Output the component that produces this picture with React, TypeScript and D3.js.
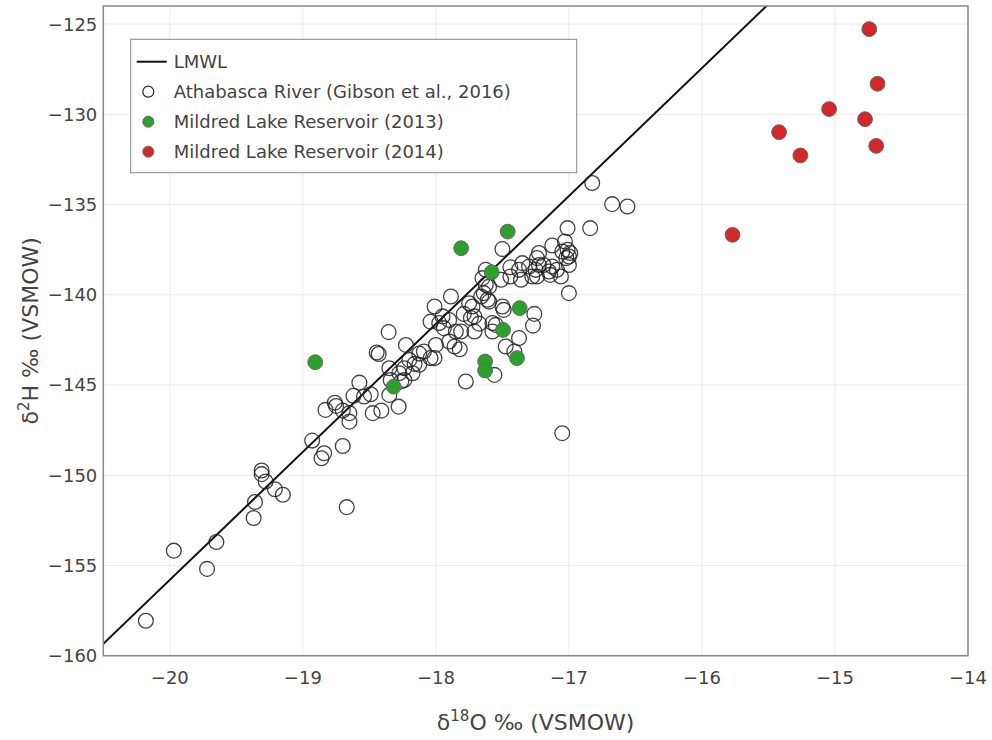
import React from "react";
import * as d3 from "d3";

// Athabasca River (Gibson et al., 2016): δ18O and δ2H, ‰ VSMOW
const athabascaO18 = [
  -20.18, -19.97, -19.72, -19.65, -19.37, -19.36, -19.28, -19.31, -19.31, -19.21,
  -19.15, -18.93, -18.86, -18.84, -18.67, -18.70, -18.83, -18.76, -18.75, -18.70,
  -18.65, -18.65, -18.62, -18.54, -18.475, -18.41, -18.28, -18.49, -18.575, -18.355,
  -18.445, -18.43, -18.35, -18.34, -18.35, -18.275, -18.237, -18.20, -18.16, -18.175,
  -18.125, -18.225, -18.237, -18.125, -18.09, -18.04, -18.01, -18.0, -18.04, -18.01,
  -17.975, -17.95, -17.94, -17.90, -17.887, -17.90, -17.85, -17.81, -17.82, -17.775,
  -17.86, -18.26, -17.75, -17.725, -17.71, -17.737, -17.71, -17.66, -17.61, -17.625,
  -17.65, -17.60, -17.50, -17.575, -17.55, -17.50, -17.49, -17.475, -17.41, -17.56,
  -17.375, -17.60, -17.64, -17.675, -17.575, -17.51, -17.625, -17.44, -17.44, -17.36,
  -17.35, -17.375, -17.30, -17.26, -17.27, -17.05, -17.125, -17.03, -17.05, -17.01,
  -17.00, -17.02, -16.99, -17.00, -17.06, -17.00, -17.225, -17.24, -17.225, -17.24,
  -17.25, -17.15, -17.125, -17.14, -17.09, -17.01, -16.84, -16.825, -16.675, -16.56,
  -17.79, -17.19, -17.275,
];
const athabascaH2 = [
  -158.06, -154.18, -155.19, -153.70, -152.37, -151.48, -150.35, -149.94, -149.74, -150.78,
  -151.08, -148.08, -149.06, -148.78, -151.77, -148.38, -146.38, -145.98, -146.16, -146.42,
  -146.56, -147.03, -145.60, -145.64, -146.56, -146.42, -146.20, -145.51, -144.87, -142.07,
  -143.20, -143.28, -144.07, -144.72, -145.55, -144.35, -144.07, -143.61, -143.83, -144.35,
  -143.88, -142.78, -144.72, -143.26, -143.15, -143.51, -143.51, -142.78, -141.49, -140.65,
  -141.57, -141.20, -141.85, -141.40, -140.10, -142.59, -142.04, -142.04, -143.02, -144.81,
  -142.87, -144.80, -140.47, -140.65, -141.20, -141.29, -142.04, -140.10, -140.28, -139.45,
  -139.08, -139.55, -137.47, -142.04, -141.67, -140.65, -140.84, -142.87, -143.15, -144.44,
  -142.40, -140.38, -139.91, -141.60, -141.57, -139.17, -138.62, -138.48, -138.99, -139.17,
  -138.25, -138.62, -138.44, -141.06, -141.71, -147.67, -137.27, -137.05, -137.60, -137.51,
  -137.88, -137.97, -137.69, -138.35, -138.99, -139.91, -137.69, -137.97, -138.35, -138.99,
  -138.62, -138.71, -138.44, -138.90, -138.62, -136.31, -136.31, -133.81, -134.98, -135.11,
  -141.06, -138.35, -138.99,
];

// Mildred Lake Reservoir, 2013 sampling
const mlr2013O18 = [-18.907, -18.317, -17.81, -17.58, -17.46, -17.495, -17.63, -17.63, -17.39, -17.37];
const mlr2013H2 = [-143.74, -145.09, -137.42, -138.75, -136.5, -141.95, -143.7, -144.2, -143.51, -140.74];

// Mildred Lake Reservoir, 2014 sampling
const mlr2014O18 = [-14.742, -14.68, -15.044, -14.774, -14.69, -15.42, -15.26, -15.77];
const mlr2014H2 = [-125.28, -128.31, -129.71, -130.27, -131.75, -130.99, -132.28, -136.68];

// Local meteoric water line: δ2H = slope · δ18O + intercept
const lmwlSlope = 7.09;
const lmwlIntercept = -14.0;

const xTicks = [-20, -19, -18, -17, -16, -15, -14];
const yTicks = [-160, -155, -150, -145, -140, -135, -130, -125];

const legendLabels = [
  "LMWL",
  "Athabasca River (Gibson et al., 2016)",
  "Mildred Lake Reservoir (2013)",
  "Mildred Lake Reservoir (2014)",
];

const W = 992;
const H = 740;
const plot = { left: 103.3, right: 968, top: 6, bottom: 655.7 };

const FONT = "'DejaVu Sans', Verdana, sans-serif";
const TEXT = "#444";
const GREEN = "#2ca02c";
const RED = "#d62728";

const fmt = (v: number) => (v < 0 ? "\u2212" + Math.abs(v) : String(v));

export default function App() {
  const x = d3.scaleLinear().domain([-20.5, -14.0]).range([plot.left, plot.right]);
  const y = d3.scaleLinear().domain([-160, -124]).range([plot.bottom, plot.top]);

  const lmwl = d3
    .line<number>()
    .x((d) => x(d))
    .y((d) => y(lmwlSlope * d + lmwlIntercept));
  const lmwlPath = lmwl(x.domain()) || "";

  const pw = plot.right - plot.left;
  const ph = plot.bottom - plot.top;

  const legend = { x: 130.7, y: 39.3, w: 446, h: 133.4 };
  const rowY = (i: number) => legend.y + 22.4 + i * 30;

  return (
    <svg
      width={W}
      height={H}
      style={{ position: "absolute", left: 0, top: 0, background: "#fff" }}
      fontFamily={FONT}
    >
      <defs>
        <clipPath id="plotClip">
          <rect x={plot.left} y={plot.top} width={pw} height={ph} />
        </clipPath>
      </defs>
      <rect x={0} y={0} width={W} height={H} fill="#fff" />

      {/* grid */}
      <g stroke="#ebebeb" strokeWidth={1}>
        {xTicks.map((t) => (
          <line key={"gx" + t} x1={x(t)} x2={x(t)} y1={plot.top} y2={plot.bottom} />
        ))}
        {yTicks.map((t) => (
          <line key={"gy" + t} x1={plot.left} x2={plot.right} y1={y(t)} y2={y(t)} />
        ))}
      </g>

      <g clipPath="url(#plotClip)">
        <path d={lmwlPath} stroke="#111" strokeWidth={2} fill="none" />
        {athabascaO18.map((v, i) => (
          <circle
            key={"a" + i}
            cx={x(v)}
            cy={y(athabascaH2[i])}
            r={7.4}
            fill="none"
            stroke="#222"
            strokeWidth={1.3}
            strokeOpacity={0.85}
          />
        ))}
        {mlr2013O18.map((v, i) => (
          <circle
            key={"g" + i}
            cx={x(v)}
            cy={y(mlr2013H2[i])}
            r={7.4}
            fill={GREEN}
            stroke="#666"
            strokeWidth={1}
          />
        ))}
        {mlr2014O18.map((v, i) => (
          <circle
            key={"r" + i}
            cx={x(v)}
            cy={y(mlr2014H2[i])}
            r={7.4}
            fill={RED}
            stroke="#666"
            strokeWidth={1}
          />
        ))}
      </g>

      {/* frame */}
      <rect
        x={plot.left}
        y={plot.top}
        width={pw}
        height={ph}
        fill="none"
        stroke="#888"
        strokeWidth={1.5}
      />

      {/* ticks */}
      <g fill={TEXT} fontSize={18}>
        {xTicks.map((t) => (
          <text key={"tx" + t} x={x(t)} y={plot.bottom + 28} textAnchor="middle">
            {fmt(t)}
          </text>
        ))}
        {yTicks.map((t) => (
          <text key={"ty" + t} x={plot.left - 6} y={y(t) + 6.5} textAnchor="end">
            {fmt(t)}
          </text>
        ))}
      </g>

      {/* axis titles */}
      <text x={(plot.left + plot.right) / 2} y={730} textAnchor="middle" fill={TEXT} fontSize={22}>
        δ<tspan baselineShift="super" fontSize={15}>18</tspan>O ‰ (VSMOW)
      </text>
      <text
        transform={`translate(38,${(plot.top + plot.bottom) / 2}) rotate(-90)`}
        textAnchor="middle"
        fill={TEXT}
        fontSize={22}
      >
        δ<tspan baselineShift="super" fontSize={15}>2</tspan>H ‰ (VSMOW)
      </text>

      {/* legend */}
      <g>
        <rect
          x={legend.x}
          y={legend.y}
          width={legend.w}
          height={legend.h}
          fill="#fff"
          stroke="#888"
          strokeWidth={1}
        />
        <line x1={legend.x + 6} x2={legend.x + 36} y1={rowY(0)} y2={rowY(0)} stroke="#111" strokeWidth={2} />
        <circle cx={legend.x + 17.6} cy={rowY(1)} r={5.5} fill="none" stroke="#222" strokeWidth={1.2} />
        <circle cx={legend.x + 17.6} cy={rowY(2)} r={5.5} fill={GREEN} stroke="#666" strokeWidth={1} />
        <circle cx={legend.x + 17.6} cy={rowY(3)} r={5.5} fill={RED} stroke="#666" strokeWidth={1} />
        {legendLabels.map((l, i) => (
          <text key={l} x={legend.x + 43} y={rowY(i) + 6.5} fill={TEXT} fontSize={18}>
            {l}
          </text>
        ))}
      </g>
    </svg>
  );
}
